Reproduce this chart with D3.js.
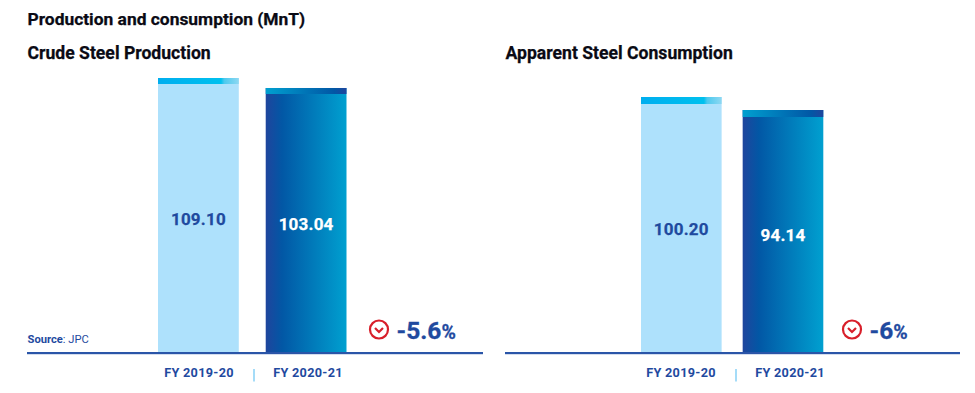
<!DOCTYPE html>
<html><head><meta charset="utf-8">
<script src="https://cdn.jsdelivr.net/npm/d3@7"></script>
<style>
html,body{margin:0;padding:0;background:#fff}
svg{display:block}
text{font-family:Roboto,sans-serif;font-weight:700}
</style></head><body><svg id="c" width="975" height="393"></svg>
<script>
const categories = ["FY 2019-20", "FY 2020-21"];
const productionValues = [109.10, 103.04];
const consumptionValues = [100.20, 94.14];
const productionChange = "-5.6";
const consumptionChange = "-6";
const pageTitle = "Production and consumption (MnT)";
const productionTitle = "Crude Steel Production";
const consumptionTitle = "Apparent Steel Consumption";

const BLUE = "#1f4a9f", INK = "#0a0a14";
const svg = d3.select("#c");
const defs = svg.append("defs");
function grad(id, stops){
  const g = defs.append("linearGradient").attr("id", id);
  stops.forEach(([o,c]) => g.append("stop").attr("offset", o).attr("stop-color", c));
}
grad("darkBody", [[0,"#1f459d"],[.2,"#0257a5"],[1,"#00a0d0"]]);
grad("darkCap", [[0,"#00a0d0"],[.55,"#0070b4"],[.85,"#0257a5"],[1,"#1f459d"]]);
grad("lightCap", [[0,"#00aeef"],[.78,"#00c0ee"],[.82,"#4cc9ee"],[1,"#8ed8f2"]]);

svg.append("text").attr("x",27.5).attr("y",25).attr("font-size",17.4).attr("fill",INK)
  .attr("stroke",INK).attr("stroke-width",.25).text(pageTitle);

function panel(o){
  const g = svg.append("g");
  g.append("text").attr("x",o.titleX).attr("y",59).attr("font-size",17.6).attr("fill",INK)
    .attr("stroke",INK).attr("stroke-width",.25).text(o.title);
  const x = d3.scaleBand().domain(categories).range(o.barRange).paddingInner(o.inner).paddingOuter(0);
  const y = d3.scaleLinear().domain(o.domain).range([352.5, o.topY]);
  const capH = o.capH;
  const bars = g.selectAll("g.bar").data(o.values).join("g").attr("class","bar");
  bars.append("rect").attr("x",(d,i)=>x(categories[i])).attr("width",x.bandwidth())
    .attr("y",d=>y(d)).attr("height",d=>y.range()[0]-y(d))
    .attr("fill",(d,i)=>i?"url(#darkBody)":"#aee1fc");
  bars.append("rect").attr("x",(d,i)=>x(categories[i])).attr("width",x.bandwidth())
    .attr("y",d=>y(d)).attr("height",capH)
    .attr("fill",(d,i)=>i?"url(#darkCap)":"url(#lightCap)");
  bars.append("text").attr("text-anchor","middle").attr("dominant-baseline","central")
    .attr("x",(d,i)=>x(categories[i])+x.bandwidth()/2)
    .attr("y",d=>(y(d)+capH+y.range()[0])/2+.5)
    .attr("font-size",17).attr("letter-spacing",.2)
    .attr("stroke",(d,i)=>i?"#fff":BLUE).attr("stroke-width",.25)
    .attr("fill",(d,i)=>i?"#fff":BLUE).text(d=>d.toFixed(2));

  g.append("rect").attr("x",o.line[0]).attr("width",o.line[1]-o.line[0]).attr("y",352).attr("height",2.2).attr("fill","#2a55a8");

  const lx = d3.scalePoint().domain(categories).range(o.labelRange);
  const ax = g.append("g").attr("transform","translate(0,354)")
    .call(d3.axisBottom(lx).tickSize(0).tickPadding(14));
  ax.select(".domain").remove();
  ax.selectAll("text").attr("font-size",12.7).attr("letter-spacing",.3).attr("font-family","Roboto,sans-serif").attr("fill",BLUE);
  const mid = (o.labelRange[0]+o.labelRange[1])/2;
  g.append("rect").attr("x",mid).attr("y",369).attr("width",2).attr("height",12.5).attr("fill","#a5dcf8");

  // change indicator
  const ic = g.append("g").attr("transform",`translate(${o.iconX},329.5)`);
  ic.append("circle").attr("r",9).attr("fill","none").attr("stroke","#d81f2a").attr("stroke-width",2.2);
  ic.append("path").attr("d",d3.line()([[-4,-1.5],[0,2.5],[4,-1.5]])).attr("fill","none").attr("stroke","#d81f2a").attr("stroke-width",2.2);
  const t = g.append("text").attr("x",o.iconX+17.5).attr("y",338.5).attr("fill",BLUE).attr("font-size",24.5)
    .attr("stroke",BLUE).attr("stroke-width",.3);
  t.append("tspan").text(o.change);
  t.append("tspan").attr("font-size",19.5).text("%");
}
panel({title:productionTitle,titleX:27.5,values:productionValues,barRange:[158,346.5],inner:.25,capH:6,
  domain:[-57.3,109.1],topY:78,line:[27,483],labelRange:[198.5,307.5],iconX:379,change:productionChange});
panel({title:consumptionTitle,titleX:505.5,values:consumptionValues,barRange:[641,823.3],inner:.207,capH:7,
  domain:[-18.9,100.2],topY:97,line:[505,960],labelRange:[680.5,789.5],iconX:852,change:consumptionChange});

const s = svg.append("text").attr("x",27.5).attr("y",343).attr("font-size",11.2).attr("fill",BLUE);
s.append("tspan").text("Source");
s.append("tspan").attr("font-weight",400).text(": JPC");
</script></body></html>
